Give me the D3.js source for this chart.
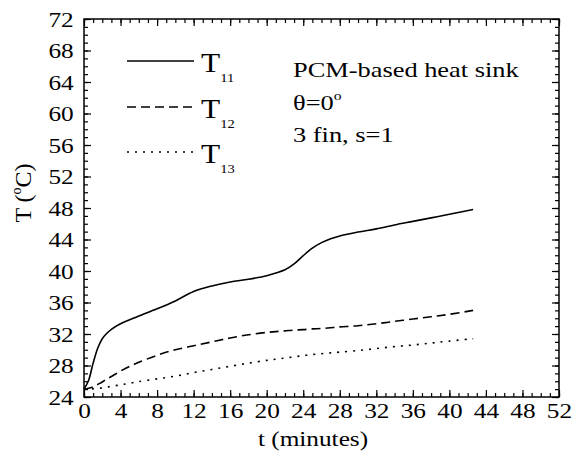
<!DOCTYPE html>
<html>
<head>
<meta charset="utf-8">
<script src="https://cdn.jsdelivr.net/npm/d3@7"></script>
<style>
  body { margin: 0; background: #fff; }
</style>
</head>
<body>
<div id="chart"></div>
<script>
// time axis, minutes
const times = [0, 0.5, 1, 1.5, 2, 2.5, 3, 4, 5, 6, 8, 10, 12, 14, 16, 18, 20, 21, 22, 23, 24, 25, 26, 27, 28, 30, 32, 34, 36, 38, 40, 42.6];

// temperatures
const T11 = [25.0, 26.1, 28.3, 30.2, 31.4, 32.1, 32.6, 33.3, 33.8, 34.3, 35.2, 36.2, 37.4, 38.1, 38.6, 38.95, 39.4, 39.75, 40.15, 40.9, 41.95, 42.9, 43.6, 44.1, 44.45, 44.95, 45.35, 45.85, 46.3, 46.75, 47.2, 47.8];
const T12 = [25.0, 25.1, 25.3, 25.6, 25.9, 26.3, 26.6, 27.3, 27.9, 28.4, 29.3, 30.0, 30.5, 31.0, 31.5, 31.9, 32.2, 32.3, 32.4, 32.5, 32.55, 32.65, 32.7, 32.8, 32.9, 33.05, 33.3, 33.6, 33.9, 34.2, 34.5, 35.0];
const T13 = [25.0, 25.0, 25.05, 25.1, 25.15, 25.25, 25.35, 25.55, 25.75, 25.95, 26.3, 26.65, 27.1, 27.5, 27.9, 28.3, 28.65, 28.8, 28.95, 29.1, 29.25, 29.4, 29.5, 29.6, 29.7, 29.9, 30.15, 30.4, 30.6, 30.85, 31.1, 31.4];

const xTicks = d3.range(0, 53, 4);
const yTicks = d3.range(24, 73, 4);
const seriesNames = ['11', '12', '13'];
const notes = ['PCM-based heat sink', 'θ=0', '3 fin, s=1'];

const width = 576, height = 463;
const margin = { top: 19, right: 17, bottom: 66, left: 84 };
const serif = '"Liberation Serif", "Times New Roman", serif';
const sx = 1.15;   // the figure is a bit wider than tall, glyphs too

const svg = d3.select('#chart')
  .append('svg')
  .attr('width', width)
  .attr('height', height)
  .style('font-family', serif);

const x = d3.scaleLinear().domain([0, 52]).range([margin.left, width - margin.right]);
const y = d3.scaleLinear().domain([24, 72]).range([height - margin.bottom, margin.top]);

// minor ticks every 1 unit, all four sides, pointing inwards
const minorX = d3.range(0, 53, 1);
const minorY = d3.range(24, 73, 1);

function addAxis(axis, tx, ty, labels) {
  const g = svg.append('g')
    .attr('transform', 'translate(' + tx + ',' + ty + ')')
    .call(axis)
    .attr('font-family', serif);
  g.select('.domain').remove();
  g.selectAll('line').attr('stroke', '#000').attr('stroke-width', 1.2);
  if (!labels) g.selectAll('text').remove();
  else g.selectAll('text')
    .attr('font-size', 22)
    .attr('font-family', serif)
    .attr('fill', '#000')
    .attr('transform', 'scale(' + sx + ',1)');
  return g;
}

const yBot = height - margin.bottom, yTop = margin.top;
const xLeft = margin.left, xRight = width - margin.right;

addAxis(d3.axisBottom(x).tickValues(minorX).tickSize(-4).tickFormat(''), 0, yBot, false);
addAxis(d3.axisBottom(x).tickValues(xTicks).tickSize(-7).tickPadding(5).tickFormat(d3.format('d')), 0, yBot, true);
addAxis(d3.axisTop(x).tickValues(minorX).tickSize(-4).tickFormat(''), 0, yTop, false);
addAxis(d3.axisTop(x).tickValues(xTicks).tickSize(-7).tickFormat(''), 0, yTop, false);
addAxis(d3.axisLeft(y).tickValues(minorY).tickSize(-4).tickFormat(''), xLeft, 0, false);
addAxis(d3.axisLeft(y).tickValues(yTicks).tickSize(-7).tickPadding(9).tickFormat(d3.format('d')), xLeft, 0, true);
addAxis(d3.axisRight(y).tickValues(minorY).tickSize(-4).tickFormat(''), xRight, 0, false);
addAxis(d3.axisRight(y).tickValues(yTicks).tickSize(-7).tickFormat(''), xRight, 0, false);

// frame
svg.append('rect')
  .attr('x', xLeft).attr('y', yTop)
  .attr('width', xRight - xLeft).attr('height', yBot - yTop)
  .attr('fill', 'none').attr('stroke', '#000').attr('stroke-width', 1.5);

// curves
const series = [T11, T12, T13];
const dashes = [null, '9,5', '2,6'];

const line = d3.line()
  .x(function (d, i) { return x(times[i]); })
  .y(function (d) { return y(d); })
  .curve(d3.curveCatmullRom.alpha(0.5));

series.forEach(function (vals, k) {
  svg.append('path')
    .datum(vals)
    .attr('d', line)
    .attr('fill', 'none')
    .attr('stroke', '#000')
    .attr('stroke-width', 1.6)
    .attr('stroke-dasharray', dashes[k]);
});

function label(px, py, size, scale) {
  return svg.append('text')
    .attr('transform', 'translate(' + px + ',' + py + ') scale(' + scale + ',1)')
    .attr('font-size', size)
    .attr('font-family', serif)
    .attr('fill', '#000');
}

// legend
const legY = [61, 107, 152];
seriesNames.forEach(function (n, k) {
  svg.append('line')
    .attr('x1', 127).attr('x2', 194)
    .attr('y1', legY[k]).attr('y2', legY[k])
    .attr('stroke', '#000').attr('stroke-width', 1.6)
    .attr('stroke-dasharray', dashes[k]);
  const t = label(201, legY[k] + 10.5, 28, 1.12).text('T');
  t.append('tspan')
    .attr('font-size', 13)
    .attr('dy', 10)
    .text(n);
});

// notes
const noteY = [77, 110, 142];
notes.forEach(function (s, k) {
  const t = label(293, noteY[k], 22, 1.2).text(s);
  if (k === 1) {
    t.append('tspan').attr('font-size', 13).attr('dy', -10).text('o');
  }
});

// axis titles
label(313, 446, 22, sx)
  .attr('text-anchor', 'middle')
  .text('t (minutes)');

const yt = svg.append('text')
  .attr('transform', 'translate(31,193) rotate(-90)')
  .attr('text-anchor', 'middle')
  .attr('font-size', 24)
  .attr('font-family', serif)
  .attr('fill', '#000');
yt.append('tspan').text('T (');
yt.append('tspan').attr('font-size', 14).attr('dy', -10).text('o');
yt.append('tspan').attr('dy', 10).text('C)');
</script>
</body>
</html>
